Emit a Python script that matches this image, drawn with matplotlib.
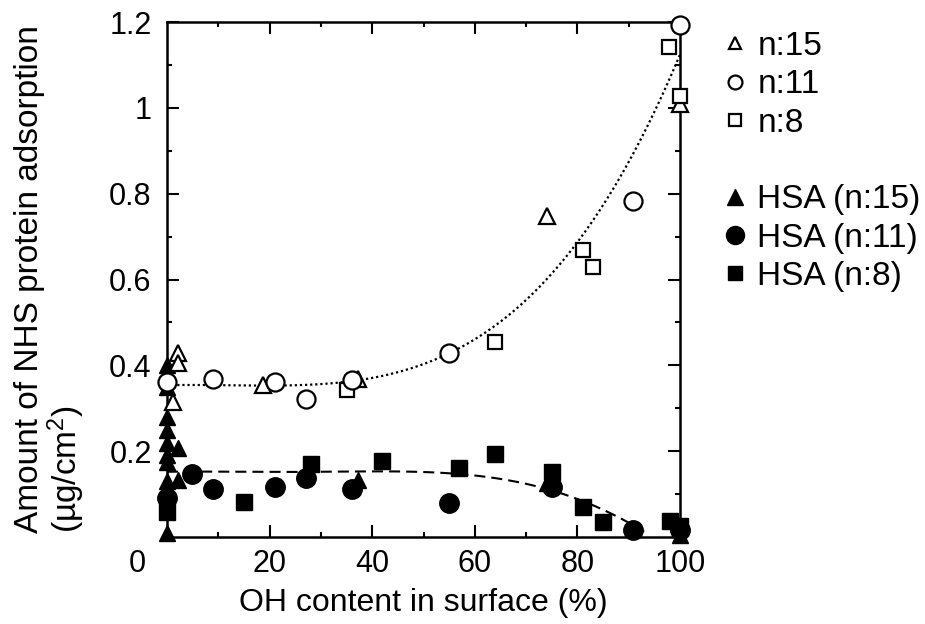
import numpy as np
import matplotlib
matplotlib.use("Agg")
from matplotlib import pyplot as plt
from matplotlib.lines import Line2D

plt.rcParams['font.family'] = ['Liberation Sans', 'DejaVu Sans']
plt.rcParams['mathtext.fontset'] = 'custom'
plt.rcParams['mathtext.rm'] = 'Liberation Sans'
plt.rcParams['mathtext.it'] = 'Liberation Sans'

# open symbols (NHS protein)
tri_x = [2.2, 2.2, 1.2, 18.8, 37.3, 74.0, 100]
tri_y = [0.428, 0.405, 0.315, 0.354, 0.368, 0.748, 1.008]
circ_x = [0, 9.0, 21.1, 27.0, 36.0, 55.0, 90.9, 100]
circ_y = [0.362, 0.368, 0.362, 0.322, 0.366, 0.428, 0.782, 1.193]
sq_x = [35.0, 63.9, 81.0, 83.0, 97.8, 100]
sq_y = [0.343, 0.455, 0.669, 0.628, 1.142, 1.028]

# filled symbols (HSA)
htri_x = [0, 0, 0, 0, 0, 0, 0, 0, 0, 0, 2.2, 2.2, 37.3, 74.0, 100]
htri_y = [0.40, 0.35, 0.28, 0.25, 0.22, 0.19, 0.175, 0.13, 0.115, 0.01,
          0.207, 0.133, 0.133, 0.125, 0.005]
hcirc_x = [0, 4.9, 9.0, 21.1, 27.0, 36.0, 55.0, 75.0, 90.9, 100]
hcirc_y = [0.09, 0.147, 0.113, 0.117, 0.137, 0.112, 0.079, 0.117, 0.017, 0.016]
hsq_x = [0, 15.0, 28.0, 42.0, 57.0, 63.9, 75.0, 81.0, 85.0, 98.0, 100]
hsq_y = [0.059, 0.082, 0.170, 0.176, 0.160, 0.193, 0.152, 0.071, 0.035, 0.038, 0.026]

# trend lines, points
dot_x = [0, 10, 20, 30, 40, 45.4, 55, 62.6, 65.6, 81, 90.9, 94.5, 100]
dot_y = [0.355, 0.352, 0.352, 0.356, 0.37, 0.389, 0.428, 0.486, 0.506, 0.681, 0.918, 0.98, 1.115]
dash_x = [0, 10, 20, 30, 40, 50, 58.4, 70.1, 79.8, 88, 93]
dash_y = [0.152, 0.152, 0.152, 0.152, 0.152, 0.151, 0.148, 0.121, 0.090, 0.047, 0.012]

fig = plt.figure(figsize=(9.25, 6.24), dpi=100)
ax = fig.add_axes([167/925, 1-537/624, 513/925, 515/624])

# smooth the read curve points
xd = np.linspace(0, 100, 300)
ax.plot(xd, np.polyval(np.polyfit(dot_x, dot_y, 4), xd), color='black',
        lw=1.6, linestyle=(0, (1, 1.3)), zorder=1)
xs = np.linspace(0, 93, 300)
ax.plot(xs, np.polyval(np.polyfit(dash_x, dash_y, 5), xs), color='black',
        lw=1.5, linestyle=(0, (5.3, 2.9)), zorder=1)

ax.plot(htri_x, htri_y, '^', color='black', ms=12, clip_on=False, zorder=3)
ax.plot(hsq_x, hsq_y, 's', color='black', ms=11, clip_on=False, zorder=3)
ax.plot(hcirc_x, hcirc_y, 'o', color='black', ms=14, clip_on=False, zorder=3)
ax.plot(tri_x, tri_y, '^', mfc='white', mec='black', mew=1.6, ms=11, clip_on=False, zorder=4)
ax.plot(sq_x, sq_y, 's', mfc='white', mec='black', mew=1.6, ms=10, clip_on=False, zorder=4)
ax.plot(circ_x, circ_y, 'o', mfc='white', mec='black', mew=1.6, ms=13, clip_on=False, zorder=4)

ax.set_xlim(0, 100)
ax.set_ylim(0, 1.2)
ax.set_xticks([20, 40, 60, 80, 100])
ax.set_xticks([10, 30, 50, 70, 90], minor=True)
ax.set_yticks([0.2, 0.4, 0.6, 0.8, 1.0, 1.2])
ax.set_yticklabels(['0.2', '0.4', '0.6', '0.8', '1', '1.2'])
ax.set_yticks([0.1, 0.3, 0.5, 0.7, 0.9, 1.1], minor=True)
ax.tick_params(which='both', direction='in', top=True, right=True, width=1.5, labelsize=22)
ax.tick_params(which='major', length=8.5)
ax.tick_params(which='minor', length=3.6)
ax.tick_params(axis='x', pad=9)
ax.tick_params(axis='y', pad=11)
for s in ax.spines.values():
    s.set_linewidth(1.8)

ax.annotate('0', xy=(0, 0), xycoords='data', xytext=(-21.5, -9), textcoords='offset points',
            ha='center', va='top', fontsize=22)

ax.set_xlabel('OH content in surface (%)', fontsize=23, labelpad=6)
ax.set_ylabel('Amount of NHS protein adsorption\n(µg/cm$^2$)', fontsize=24,
              multialignment='left', linespacing=1.0)
ax.yaxis.set_label_coords(-0.156, 0.5)

handles = [
    Line2D([], [], ls='none', marker='^', mfc='white', mec='black', mew=1.6, ms=9),
    Line2D([], [], ls='none', marker='o', mfc='white', mec='black', mew=1.6, ms=10),
    Line2D([], [], ls='none', marker='s', mfc='white', mec='black', mew=1.6, ms=8.5),
    Line2D([], [], ls='none'),
    Line2D([], [], ls='none', marker='^', color='black', ms=11),
    Line2D([], [], ls='none', marker='o', color='black', ms=13),
    Line2D([], [], ls='none', marker='s', color='black', ms=9.5),
]
labels = ['n:15', 'n:11', 'n:8', ' ', 'HSA (n:15)', 'HSA (n:11)', 'HSA (n:8)']
fig.legend(handles, labels, loc='upper left', bbox_to_anchor=(722/925, 1-31/624),
           frameon=False, fontsize=24, handlelength=0.8, handletextpad=0.26,
           labelspacing=0.22, borderpad=0, borderaxespad=0)

fig.savefig('out.png', dpi=100)
